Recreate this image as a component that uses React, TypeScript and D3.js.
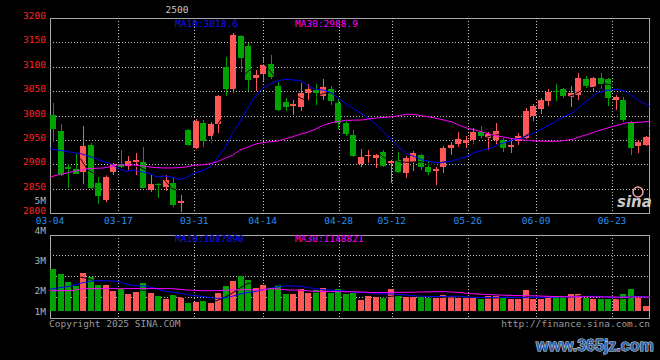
import React from "react";
import * as d3 from "d3";

// x axis ticks (trading-day index of each labelled date)
const tickLabels = ["03-04", "03-17", "03-31", "04-14", "04-28", "05-12", "05-26", "06-09", "06-23"];
const tickIndex = [0, 9, 19, 28, 38, 45, 55, 64, 74];
const priceTicks = [3200, 3150, 3100, 3050, 3000, 2950, 2900, 2850, 2800];
const volLabels = [5, 4, 3, 2, 1]; // in millions

const open = [
  3001, 2968, 2894, 2890, 2885, 2939.5, 2861.5, 2826.7, 2884, 2900.5,
  2897, 2904, 2904.6, 2847, 2860, 2854, 2861.5, 2821, 2970, 2934,
  2984.6, 2958.6, 2982, 3099.5, 3055, 3163, 3142.6, 3077.6, 3085, 3105.6,
  3060.5, 3027.7, 3019.5, 3017.4, 3046.8, 3051.6, 3041, 3054, 3025.6, 2985.3,
  2960, 2900.5, 2916, 2912.8, 2925, 2903, 2908.7, 2882.7, 2904.6, 2919,
  2894.4, 2886.8, 2895, 2933, 2942, 2944, 2949.7, 2966, 2954.5, 2950.4,
  2949.7, 2936, 2947.7, 2954.5, 2999, 3014, 3030.4, 3050, 3054, 3038.6,
  3042.7, 3075, 3059, 3077, 3075, 3032.5, 3031.8, 2986.7, 2938, 2940,
];
const high = [
  3026, 2983, 2900, 2922, 2978, 2943, 2874.5, 2878, 2902, 2930,
  2917, 2923, 2935, 2878.6, 2862, 2878, 2873, 2837, 2971.6, 2992.8,
  2990, 2986, 3042, 3120, 3170, 3165, 3148, 3093, 3118, 3123.4,
  3070, 3035, 3031.8, 3067, 3063.6, 3063.6, 3075, 3060.5, 3034, 2988.7,
  2970, 2931, 2929, 2921.7, 2929, 2909, 2925, 2917.6, 2927, 2921.7,
  2907, 2894.4, 2937.4, 2946, 2966.8, 2958.6, 2973.7, 2978.5, 2966.8, 2985.3,
  2953, 2951.8, 2964, 3016, 3024, 3036, 3054, 3064.6, 3057, 3060.5,
  3086.5, 3081, 3079.7, 3087, 3077, 3042, 3037, 2988.7, 2949.7, 2957,
];
const low = [
  2946, 2875, 2852, 2879, 2860, 2848.5, 2819, 2822.6, 2876.6, 2892,
  2887, 2878.6, 2850.6, 2843.8, 2831.5, 2846, 2813, 2802.7, 2937.5, 2931,
  2936, 2944.3, 2963.4, 3040.7, 3046.8, 3090, 3050, 3049.6, 3071.5, 3075,
  3009, 3009, 3001, 3008.5, 3030.4, 3022, 3031, 3021.5, 2972.3, 2958.6,
  2914, 2894.4, 2902, 2893, 2894.4, 2862, 2882, 2872.5, 2886.8, 2889,
  2878.6, 2858, 2882.7, 2918, 2936, 2934, 2940.9, 2951, 2929, 2942,
  2925, 2923.8, 2940, 2951.8, 2988.7, 3003, 3020, 3030.4, 3036.6, 3018,
  3031.8, 3056.4, 3050, 3055, 3019.5, 3011, 2986, 2920, 2923.8, 2938,
];
const close = [
  2972, 2878, 2890, 2881, 2938, 2852, 2835.6, 2874.5, 2900.5, 2895,
  2906.7, 2908.7, 2852, 2860, 2856.8, 2867.7, 2817, 2824.6, 2940, 2988.7,
  2947.7, 2982.6, 3040, 3055, 3165, 3118.6, 3072.8, 3083, 3103, 3078.3,
  3012, 3017.4, 3023, 3046, 3054, 3046, 3058.5, 3030.4, 2985.3, 2962,
  2917, 2915, 2919, 2919, 2896.4, 2907.4, 2884, 2912.8, 2923.8, 2895,
  2884, 2889.6, 2933, 2939.5, 2951.8, 2949.7, 2966, 2958.6, 2962, 2968,
  2934, 2940, 2958, 3009, 3019.5, 3031.8, 3048, 3047.5, 3040, 3046,
  3076, 3060.5, 3077, 3064.6, 3036, 3038, 2990.8, 2934, 2945.6, 2955,
];
// volume, millions
const volume = [
  3.45, 3.03, 2.37, 2.04, 3.12, 2.79, 2.12, 2.12, 1.63, 1.79,
  1.38, 1.55, 2.29, 1.46, 1.21, 0.97, 1.3, 1.13, 0.64, 0.72,
  0.8, 0.64, 1.46, 2.04, 2.45, 2.87, 2.54, 1.88, 2.12, 1.88,
  2.12, 1.38, 1.38, 1.79, 1.46, 1.71, 1.88, 1.46, 1.79, 1.4,
  1.46, 0.91, 1.24, 1.13, 1.05, 1.79, 1.24, 1.13, 1.13, 1.19,
  1.05, 1.05, 1.3, 1.24, 1.05, 1.05, 1.05, 0.99, 1.21, 1.21,
  1.13, 0.97, 0.97, 1.71, 0.99, 0.99, 1.24, 1.21, 1.19, 1.38,
  1.38, 1.11, 0.97, 0.97, 0.97, 0.97, 1.38, 1.79, 1.11, 0.41,
];

// moving averages before the window fills
const ma10Head = [2931.7, 2929, 2927, 2924, 2922, 2917, 2912, 2905.5, 2901];
const ma30Head = [
  2873.8, 2878, 2881.4, 2885, 2888, 2891, 2891.7, 2892.4, 2895, 2898.6,
  2898.6, 2898.6, 2897, 2894.5, 2893, 2892.4, 2892.4, 2893, 2894.5, 2898.6,
  2898.5, 2901, 2905, 2912, 2918, 2929, 2934.7, 2941, 2944.3,
];
const volMa10Head = [1.79, 1.9, 1.98, 2.1, 2.29, 2.43, 2.51, 2.51, 2.48];
const volMa30Head = [
  1.68, 1.68, 1.68, 1.68, 1.82, 1.85, 1.85, 1.85, 1.85, 1.85,
  1.85, 1.85, 1.85, 1.85, 1.85, 1.85, 1.85, 1.8, 1.74, 1.71,
  1.68, 1.68, 1.68, 1.71, 1.74, 1.76, 1.76, 1.74, 1.74,
];

const RED = "#ff5757";
const GREEN = "#00a400";
const GRID = "#c8c8c8";
const FONT = "'DejaVu Sans Mono', monospace";

function movingAvg(vals: number[], n: number, head?: number[]) {
  return vals.map((_, i) =>
    i >= n - 1 ? (d3.mean(vals.slice(i - n + 1, i + 1)) as number) : head ? head[i] : NaN
  );
}

const App = () => {
  const width = 660;
  const height = 360;
  const left = 50;
  const right = 650;
  const main = { top: 18, bottom: 213 };
  const vol = { top: 234.5, bottom: 318, base: 311 };
  const n = close.length;
  const idx = d3.range(n);

  const xBand = d3.scaleBand<number>().domain(idx).range([left, right]).paddingInner(0.2).paddingOuter(0.1);
  const xLine = d3.scaleLinear().domain([0, n - 1]).range([left, right]);
  const y = d3.scaleLinear().domain([2800, 3200]).range([main.bottom, main.top]);
  const yVol = d3.scaleLinear().domain([0, 6.3]).range([vol.base, 234.8]);
  const yVolLabel = d3.scaleLinear().domain([2, 5]).range([290.7, 200.7]);
  const bw = xBand.bandwidth();

  const ma5 = movingAvg(close, 5);
  const ma10 = movingAvg(close, 10, ma10Head);
  const ma30 = movingAvg(close, 30, ma30Head);
  const vMa5 = movingAvg(volume, 5);
  const vMa10 = movingAvg(volume, 10, volMa10Head);
  const vMa30 = movingAvg(volume, 30, volMa30Head);

  const priceLine = d3.line<number>().defined((d) => !isNaN(d)).x((_, i) => xLine(i)).y((d) => y(d));
  const volLine = d3.line<number>().defined((d) => !isNaN(d)).x((_, i) => xLine(i)).y((d) => yVol(d));

  const volRows = d3.range(1, 4).map((k) => vol.top + ((vol.bottom - vol.top) * k) / 4);

  return (
    <div style={{ position: "fixed", left: 0, top: 0 }}>
      <svg width={width} height={height} style={{ display: "block", background: "#000" }}>
        <rect width={width} height={height} fill="#000" />

        {/* grid, price panel and volume panel */}
        <g stroke={GRID} strokeDasharray="1,2" shapeRendering="crispEdges">
          {priceTicks.slice(1, -1).map((p) => (
            <line key={p} x1={left} x2={right} y1={Math.round(y(p)) + 0.5} y2={Math.round(y(p)) + 0.5} />
          ))}
          {tickIndex.slice(1).map((t) => (
            <line key={t} x1={Math.round(xLine(t)) + 0.5} x2={Math.round(xLine(t)) + 0.5} y1={main.top} y2={main.bottom} />
          ))}
          {volRows.map((r) => (
            <line key={r} x1={left} x2={right} y1={Math.round(r) + 0.5} y2={Math.round(r) + 0.5} />
          ))}
          {tickIndex.slice(1).map((t) => (
            <line key={"v" + t} x1={Math.round(xLine(t)) + 0.5} x2={Math.round(xLine(t)) + 0.5} y1={vol.top} y2={vol.bottom} />
          ))}
        </g>
        <g fill="none" stroke="#a8a8a8" shapeRendering="crispEdges">
          <rect x={left + 0.5} y={main.top + 0.5} width={right - left - 1} height={main.bottom - main.top} />
          <rect x={left + 0.5} y={vol.top + 0.5} width={right - left - 1} height={vol.bottom - vol.top} />
        </g>

        {/* candles */}
        <g shapeRendering="crispEdges">
          {idx.map((i) => {
            const up = close[i] >= open[i];
            const color = up ? RED : GREEN;
            const cx = Math.floor((xBand(i) as number) + bw / 2) + 0.5;
            const yt = y(Math.max(open[i], close[i]));
            const yb = y(Math.min(open[i], close[i]));
            return (
              <g key={i}>
                <line x1={cx} x2={cx} y1={y(high[i])} y2={y(low[i])} stroke={color} />
                <rect x={cx - 3.5} y={yt} width={bw} height={Math.max(1, yb - yt)} fill={color} />
              </g>
            );
          })}
        </g>
        <path d={priceLine(ma5) || ""} fill="none" stroke="#000" strokeWidth={1} />
        <path d={priceLine(ma10) || ""} fill="none" stroke="#0000ff" strokeWidth={1} />
        <path d={priceLine(ma30) || ""} fill="none" stroke="#ff00ff" strokeWidth={1} />

        {/* volume bars */}
        <g shapeRendering="crispEdges">
          {idx.map((i) => {
            const cx = Math.floor((xBand(i) as number) + bw / 2) + 0.5;
            return (
              <rect
                key={i}
                x={cx - 3.5}
                y={yVol(volume[i])}
                width={bw}
                height={yVol(0) - yVol(volume[i])}
                fill={close[i] >= open[i] ? RED : GREEN}
              />
            );
          })}
        </g>
        <path d={volLine(vMa5) || ""} fill="none" stroke="#000" strokeWidth={1} />
        <path d={volLine(vMa10) || ""} fill="none" stroke="#0000ff" strokeWidth={1} />
        <path d={volLine(vMa30) || ""} fill="none" stroke="#ff00ff" strokeWidth={1} />

        {/* axis labels */}
        <g fontFamily={FONT} fontSize={9.5}>
          {priceTicks.map((p) => (
            <text key={p} x={46} y={y(p) - 1.5} textAnchor="end" dominantBaseline="middle" fill="#ff2424">
              {p}
            </text>
          ))}
          {tickIndex.map((t, k) => (
            <text key={t} x={xLine(t)} y={221} textAnchor="middle" dominantBaseline="middle" fill="#2890f0">
              {tickLabels[k]}
            </text>
          ))}
          {volLabels.map((v) => (
            <text key={v} x={46} y={Math.min(yVolLabel(v), vol.base) + 1} textAnchor="end" dominantBaseline="middle" fill="#b4b4b4">
              {v}M
            </text>
          ))}
          <text x={177} y={10} textAnchor="middle" dominantBaseline="middle" fill="#c8c8c8">2500</text>
          <text x={175} y={24} dominantBaseline="middle" fill="#1010ff">MA10:3018.6</text>
          <text x={295} y={24} dominantBaseline="middle" fill="#ff00ff">MA30:2988.9</text>
          <text x={175} y={239} dominantBaseline="middle" fill="#1010ff">MA10:1087890</text>
          <text x={295} y={239} dominantBaseline="middle" fill="#ff00ff">MA30:1148821</text>
          <text x={49} y={324} dominantBaseline="middle" fill="#9a9a9a">Copyright 2025 SINA.COM</text>
          <text x={650} y={324} textAnchor="end" dominantBaseline="middle" fill="#9a9a9a">http://finance.sina.com.cn</text>
        </g>

        {/* sina logo */}
        <g>
          <circle cx={638} cy={192} r={5} fill="none" stroke="#f0a0a0" strokeWidth={1.5} />
          <text x={617} y={207} fontFamily="'DejaVu Sans', sans-serif" fontStyle="italic" fontWeight="bold" fontSize={15} fill="#c8c8c8">
            sina
          </text>
        </g>

        {/* site watermark */}
        <text
          x={536}
          y={350.5}
          fontFamily="'Liberation Sans', sans-serif"
          fontWeight="bold"
          fontSize={16}
          fill="#2f62a8"
          stroke="#dfe6ef"
          strokeWidth={1}
          paintOrder="stroke"
        >
          www.365jz.com
        </text>
      </svg>
    </div>
  );
};

export default App;
